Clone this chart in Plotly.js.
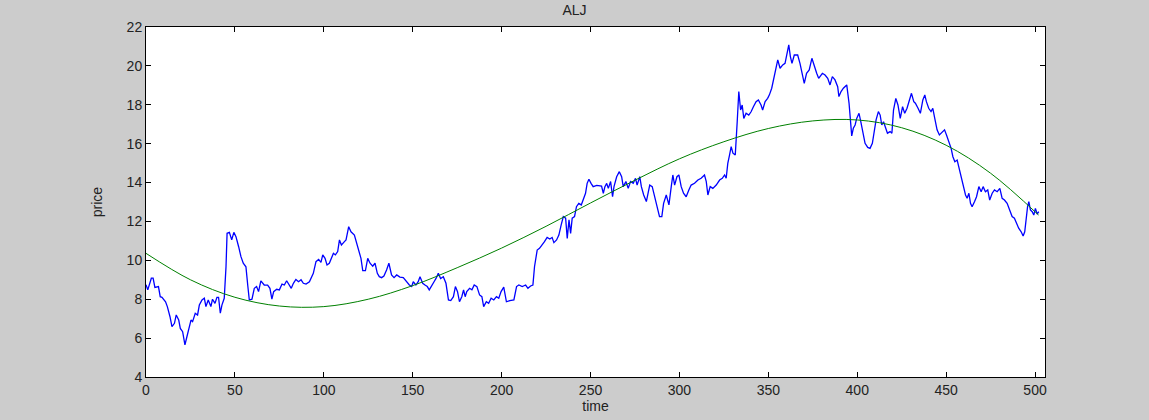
<!DOCTYPE html>
<html>
<head>
<meta charset="utf-8">
<script src="https://cdn.plot.ly/plotly-3.0.1.min.js"></script>
<style>html,body{margin:0;padding:0;background:#cccccc;}#chart{width:1149px;height:420px;}</style>
</head>
<body>
<div id="chart"></div>
<script>
// Blue price series (time, price)
const priceTime = [0,1,3,4,5,7,8,9,11,12,13.5,14.6,16,17,18.4,19.3,20.6,21.9,23,24,25.3,26.2,27.7,29,30,31.5,32.8,33.7,35,36.5,37.4,38.8,39.9,40.8,41.8,42.7,44,45,45.6,46.9,48.2,49.4,50.6,52.1,53.4,54.7,56.2,57.2,58.1,59.6,60.9,62.2,63.3,64.6,66.5,68.4,69.7,70.8,71.8,73.5,75,76.5,77.8,79.1,80.6,81.7,82.9,84.3,85.8,87.2,88.5,90,91.9,93.2,94.1,95.6,97.1,98.4,99.4,100.7,101.8,103.1,104.3,105.4,106.5,107.8,108.8,109.9,111.6,112.5,114,115.3,117.2,118.5,120,120.9,121.9,123.4,124.7,126,127.5,128.8,130.1,131.2,132.5,133.8,135.3,136.6,138.1,139.5,141,142.8,144.7,146.6,148.1,149.4,150.3,151.8,153.1,154.1,155.6,156.9,158.2,159.3,160.6,162,163.1,164.4,165.7,167.2,168.7,170.1,171.4,172.9,174,175.2,176.3,177.6,178.6,179.5,180.4,182,183.3,184.6,186.1,187.6,188.9,189.9,191.4,192.7,194.1,195.6,197.1,198.4,199.7,201.2,202.7,204.6,206.9,208.4,209.7,211.6,213.5,214.8,216.3,217.6,218.5,220,221.3,222.8,224.1,225.6,227.1,228.4,229.4,230.9,232.2,233.5,234.7,236,236.9,237.9,238.8,239.7,241,242.1,243.4,244.8,245.9,247.2,248.1,249.1,250.3,251.5,253.5,256.2,257.2,258.1,259.1,260,261.3,262.4,263.2,264.7,266.2,267.5,268.4,269.9,271.2,272.5,274,275.3,276.2,277.7,278.6,279.9,281.4,282.3,283.3,284.7,286,287.3,288.8,290.1,291.1,292.6,294.1,295.4,296.3,297.3,298.6,299.7,301,302.3,303.8,305.3,306.6,308.5,310.4,312.2,314.1,315.1,316,317.3,318.8,320.7,322.6,324.1,325.4,326.3,327.2,328.2,329.1,330.1,331.4,332.5,333.4,334.4,335.3,336.2,337.5,339,340.3,341.6,343.1,344.4,345.9,346.8,348.2,349.6,350.6,351.9,353,354.3,355.3,356.6,358.1,359.4,360.5,361.5,362.4,363.3,364.6,366.5,367.8,368.9,370.2,371.5,373,374.5,375.9,377.2,378.3,380.4,381.9,383.4,384.7,386,387.5,389,389.7,390.9,392.2,394.1,395.4,396.1,396.9,397.8,398.8,399.7,401,402,403.1,404.4,405.9,407.2,408.5,409.7,410.6,411.9,412.9,413.8,414.8,415.7,417,418.5,419.5,420.4,421.7,422.9,424.2,425.5,426.7,428,429.3,430.5,431.8,432.7,434.2,435.5,436.9,438,438.9,440.2,441.5,442.5,443.6,444.9,446.2,447.8,449.1,450.2,451.5,452.8,453.8,454.9,456.2,457.5,458.7,460,460.9,461.8,462.8,463.7,464.6,466,467.1,468.4,469.7,470.8,472.1,473.4,474.5,475.9,477.2,478.7,480.2,481.5,482.8,484.3,485.6,487.1,488.4,489.5,490.8,492.2,493.3,494.2,495,495.8,496.5,497.4,498.4,499.3,500.2,501.2,502.1];
const priceValue = [8.75,8.48,9.08,9.08,8.61,8.65,8.13,8.10,7.87,7.62,7.10,6.59,6.76,7.19,6.93,6.50,6.33,5.65,6.07,6.50,6.93,6.85,7.28,7.19,7.70,7.96,8.05,7.62,7.96,7.62,8.0,7.79,8.10,8.10,7.28,7.70,8.05,9.67,11.39,11.44,11.05,11.44,11.22,10.70,10.19,9.85,9.67,8.73,7.96,8.0,8.56,8.65,8.39,8.94,8.73,8.73,8.56,8.0,8.39,8.51,8.48,8.78,8.73,8.95,8.73,8.56,8.82,9.02,8.90,9.0,8.82,8.78,8.90,9.13,9.33,9.93,10.05,9.90,10.28,10.10,9.76,9.85,10.10,10.36,10.28,10.45,11.05,10.79,10.96,11.05,11.73,11.47,11.30,10.88,10.45,10.10,9.47,9.47,10.10,9.85,9.70,9.85,9.33,9.16,9.11,9.19,9.50,9.85,9.25,9.11,9.25,9.14,9.11,8.90,8.73,8.65,8.90,8.73,8.90,9.16,8.82,8.73,8.65,8.48,8.65,8.90,9.07,9.33,9.07,9.16,8.82,7.96,7.93,8.13,8.65,8.39,7.87,8.13,8.48,8.13,8.39,8.56,8.48,8.73,8.65,8.22,8.13,7.62,7.87,7.79,8.05,7.96,8.13,8.05,8.39,8.62,7.87,7.93,7.96,8.65,8.73,8.65,8.73,8.56,8.68,8.73,9.67,10.53,10.62,10.79,10.96,11.18,11.10,11.18,10.91,11.05,11.30,11.82,12.25,12.17,11.13,12.08,11.39,12.17,12.25,12.76,12.93,12.85,13.10,13.45,13.96,14.17,13.96,13.79,13.85,13.82,13.45,13.79,13.96,13.70,14.05,13.27,13.79,14.30,14.56,14.30,13.79,14.05,13.70,14.05,13.96,14.22,13.87,14.30,13.79,13.36,13.02,13.36,13.87,13.79,13.27,12.85,12.25,12.25,12.93,13.36,12.85,13.79,14.39,13.87,14.30,14.39,13.79,13.45,13.27,13.62,13.87,13.96,14.13,14.22,14.39,14.05,13.36,13.79,13.70,13.87,14.13,14.22,14.39,14.22,14.99,15.42,15.85,15.51,15.42,17.13,18.68,17.73,17.99,17.30,17.56,17.47,17.64,17.90,18.16,18.25,17.99,17.73,18.16,18.33,18.51,18.85,19.28,19.79,20.31,19.88,20.05,20.13,20.56,21.08,20.48,20.13,20.56,20.56,20.13,19.62,19.10,19.62,19.79,20.39,19.96,19.62,19.36,19.62,19.53,19.36,19.02,19.45,19.28,18.93,18.42,18.68,18.85,19.02,18.08,17.05,16.40,16.79,16.96,17.30,17.56,17.13,16.54,16.02,15.81,15.76,16.02,16.62,17.22,17.65,17.47,16.96,17.13,16.88,16.54,16.62,16.54,17.73,18.33,17.99,17.30,17.90,17.56,17.82,18.16,18.59,18.16,18.08,17.82,17.56,18.25,18.51,18.16,17.82,17.65,17.82,17.30,16.71,16.45,16.62,16.71,16.45,16.11,15.76,15.33,15.07,15.16,14.65,14.13,13.62,13.36,13.19,13.45,12.93,12.76,13.02,13.27,13.79,13.53,13.79,13.53,13.62,13.10,13.45,13.62,13.53,13.70,13.19,13.10,12.93,12.59,12.25,12.17,11.90,11.65,11.47,11.25,11.47,12.25,12.76,13.02,12.59,12.50,12.33,12.67,12.38,12.50];

// Green fitted curve
const fitTime = [0,25,50,75,100,125,150,175,200,225,250,275,300,325,350,375,400,425,450,475,502];
const fitValue = [10.36,9.00,8.10,7.65,7.62,8.00,8.70,9.62,10.63,11.75,12.95,14.12,15.22,16.10,16.78,17.17,17.22,16.82,15.92,14.48,12.33];

const xTicks = [0,50,100,150,200,250,300,350,400,450,500];
const yTicks = [4,6,8,10,12,14,16,18,20,22];

const font = {family: 'Liberation Sans, Arial, Helvetica, sans-serif', size: 14, color: '#222'};

const traces = [
  {x: priceTime, y: priceValue, type: 'scatter', mode: 'lines', line: {color: '#0000ff', width: 1.3}, hoverinfo: 'skip'},
  {x: fitTime, y: fitValue, type: 'scatter', mode: 'lines', line: {color: '#008000', width: 1, shape: 'spline', smoothing: 1}, hoverinfo: 'skip'}
];

const axisCommon = {
  showgrid: false, zeroline: false, showline: true, linecolor: '#000', linewidth: 1,
  mirror: 'ticks', ticks: 'inside', ticklen: 5, tickcolor: '#000', tickfont: font
};

const layout = {
  width: 1149, height: 420,
  paper_bgcolor: '#cccccc', plot_bgcolor: '#ffffff',
  margin: {l: 146, r: 104, t: 27, b: 43},
  showlegend: false,
  font: font,
  title: {text: 'ALJ', font: {family: font.family, size: 14, color: '#222'}, x: 0.5, xanchor: 'center', y: 0.975, yanchor: 'middle'},
  xaxis: Object.assign({}, axisCommon, {range: [0, 505.6], tickvals: xTicks, ticktext: xTicks.map(String),
    title: {text: 'time', font: {family: font.family, size: 14, color: '#222'}, standoff: 4}}),
  yaxis: Object.assign({}, axisCommon, {range: [4, 22], tickvals: yTicks, ticktext: yTicks.map(String),
    title: {text: 'price', font: {family: font.family, size: 14, color: '#222'}, standoff: 20}})
};

Plotly.newPlot('chart', traces, layout, {displayModeBar: false, staticPlot: true});
</script>
</body>
</html>
